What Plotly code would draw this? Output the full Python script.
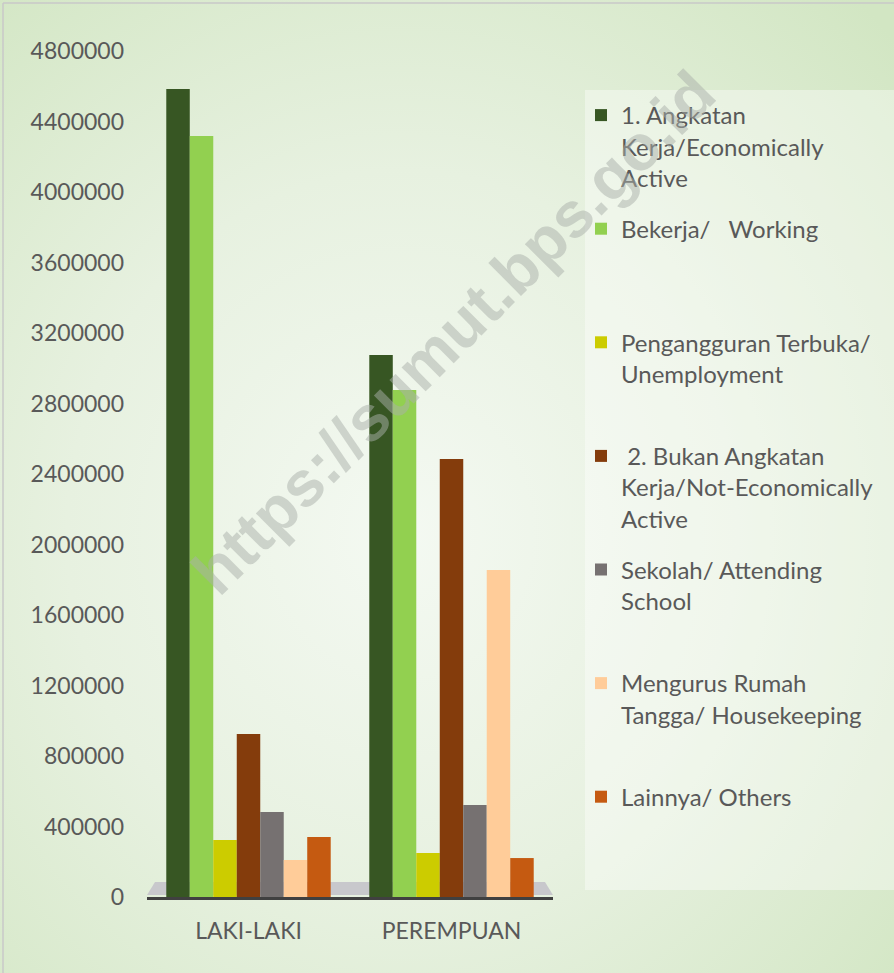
import base64
import plotly.graph_objects as go

# ---------------- data ----------------
categories = ["LAKI-LAKI", "PEREMPUAN"]

series_names = [
    "1. Angkatan<br>Kerja/Economically<br>Active",
    "Bekerja/\u00a0\u00a0 Working<br> <br> ",
    "Pengangguran Terbuka/<br>Unemployment<br> ",
    "\u00a02. Bukan Angkatan<br>Kerja/Not-Economically<br>Active",
    "Sekolah/ Attending<br>School<br> ",
    "Mengurus Rumah<br>Tangga/ Housekeeping<br> ",
    "Lainnya/ Others<br> <br> ",
]

angkatan_kerja = [4585000, 3075000]
bekerja = [4318000, 2877000]
pengangguran = [323000, 250000]
bukan_angkatan_kerja = [925000, 2485000]
sekolah = [482000, 522000]
mengurus_rumah_tangga = [210000, 1855000]
lainnya = [340000, 221000]

series_values = [angkatan_kerja, bekerja, pengangguran, bukan_angkatan_kerja,
                 sekolah, mengurus_rumah_tangga, lainnya]
series_colors = ["#375623", "#92d050", "#cccc00", "#843c0c",
                 "#767171", "#ffcc99", "#c55a11"]

y_ticks = list(range(0, 4800001, 400000))

# ---------------- layout geometry (pixels) ----------------
W, H = 894, 973
L, R, T, B = 147, 553, 51, 897   # plot area edges in px
PW, PH = R - L, B - T


def px_x(px):
    return (px - L) / PW


def px_y(py):
    return (B - py) / PH


fig = go.Figure()
for i, (name, vals, col) in enumerate(zip(series_names, series_values, series_colors)):
    fig.add_trace(go.Bar(
        x=categories, y=vals, name=name,
        marker=dict(color=col, line=dict(width=0)),
        legendgroup=f"g{i}",
    ))

# background gradient as svg image
svg = f'''<svg xmlns="http://www.w3.org/2000/svg" width="{W}" height="{H}">
<defs><radialGradient id="g" cx="45%" cy="55%" r="75%">
<stop offset="0" stop-color="#f4f9f2"/>
<stop offset="0.5" stop-color="#e7f1e0"/>
<stop offset="1" stop-color="#d2e6c3"/>
</radialGradient></defs>
<rect width="{W}" height="{H}" fill="url(#g)"/></svg>'''
src = "data:image/svg+xml;base64," + base64.b64encode(svg.encode()).decode()

shapes = [
    # legend panel
    dict(type="rect", xref="paper", yref="paper", layer="below",
         x0=px_x(585), x1=px_x(894), y0=px_y(890), y1=px_y(90),
         fillcolor="rgba(255,255,255,0.38)", line=dict(width=0)),
    # floor
    dict(type="path", xref="paper", yref="paper", layer="below",
         path=f"M {px_x(147)} {px_y(895)} L {px_x(155)} {px_y(882)} L {px_x(545)} {px_y(882)} L {px_x(553)} {px_y(895)} Z",
         fillcolor="#c8c8cc", line=dict(width=0)),
    # outer border
    dict(type="line", xref="paper", yref="paper",
         x0=px_x(3), x1=px_x(894), y0=px_y(3), y1=px_y(3),
         line=dict(color="#c8c8c8", width=1.5)),
    dict(type="line", xref="paper", yref="paper",
         x0=px_x(3), x1=px_x(3), y0=px_y(3), y1=px_y(973),
         line=dict(color="#c8c8c8", width=1.5)),
]

fig.update_layout(
    width=W, height=H,
    margin=dict(l=L, r=W - R, t=T, b=H - B, pad=0),
    paper_bgcolor="#e2efd9",
    plot_bgcolor="rgba(0,0,0,0)",
    barmode="group", bargap=0.19, bargroupgap=0,
    font=dict(family="Lato", color="#595959"),
    images=[dict(source=src, xref="paper", yref="paper",
                 x=px_x(0), y=px_y(0), sizex=W / PW, sizey=H / PH,
                 xanchor="left", yanchor="top", sizing="stretch", layer="below")],
    shapes=shapes,
    xaxis=dict(showgrid=False, showline=True, linecolor="#404040", linewidth=3,
               ticks="", tickfont=dict(family="Lato", size=23, color="#595959"),
               ticklabelstandoff=11, fixedrange=True),
    yaxis=dict(range=[0, 4800000], tickvals=y_ticks, tickformat="d",
               showgrid=False, zeroline=False, showline=False, ticks="",
               tickfont=dict(family="Lato", size=23, color="#595959"),
               ticklabelstandoff=22),
    legend=dict(x=px_x(581), y=px_y(93), xanchor="left", yanchor="top",
                bgcolor="rgba(0,0,0,0)", font=dict(family="Lato", size=24, color="#595959"),
                valign="top", tracegroupgap=17, itemwidth=30),
    showlegend=True,
    annotations=[dict(text="<b>https://sumut.bps.go.id</b>", xref="paper", yref="paper",
                      x=px_x(453), y=px_y(333), showarrow=False, textangle=-45,
                      font=dict(family="Liberation Sans", size=64, color="rgba(170,176,170,0.5)"),
                      xanchor="center", yanchor="middle")],
)

fig.write_html("out.html", config={"displayModeBar": False},
               post_script="document.body.style.margin='0';document.body.style.padding='0';")
